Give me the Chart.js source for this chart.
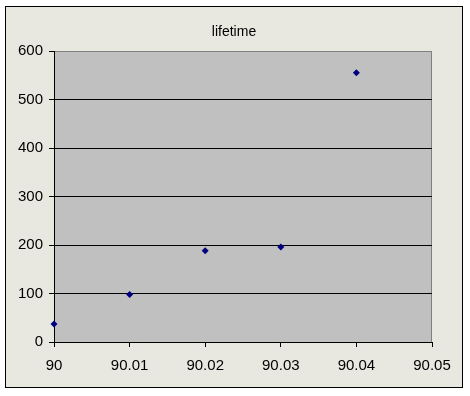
<!DOCTYPE html>
<html>
<head>
<meta charset="utf-8">
<script src="https://cdn.jsdelivr.net/npm/chart.js@4"></script>
<style>
  html,body{margin:0;padding:0;background:#fff;}
  #wrap{position:relative;width:470px;height:396px;}
</style>
</head>
<body>
<div id="wrap"><canvas id="chart" width="470" height="396"></canvas></div>
<script>
// values
const xValues = [90, 90.01, 90.02, 90.03, 90.04];
const lifetime = [37, 98, 188, 196, 555];
const chartTitle = 'lifetime';

// frame + plot background, drawn behind everything
const framePlugin = {
  id: 'frame',
  beforeDraw(chart){
    const ctx = chart.ctx, a = chart.chartArea;
    ctx.save();
    ctx.fillStyle = '#fff';
    ctx.fillRect(0, 0, chart.width, chart.height);
    ctx.fillStyle = '#E8E8E0';
    ctx.fillRect(5.5, 6.5, 457, 381);
    ctx.strokeStyle = '#000';
    ctx.lineWidth = 1;
    ctx.strokeRect(5.5, 6.5, 457, 381);
    ctx.fillStyle = '#C0C0C0';
    ctx.fillRect(a.left, a.top, a.right - a.left, a.bottom - a.top);
    ctx.strokeStyle = '#808080';
    ctx.strokeRect(a.left + 0.5, a.top + 0.5, a.right - a.left - 1, a.bottom - a.top);
    ctx.fillStyle = '#000';
    ctx.font = '14px "Liberation Sans", Arial, sans-serif';
    ctx.textAlign = 'center';
    ctx.textBaseline = 'middle';
    ctx.fillText(chartTitle, 234, 32);
    ctx.restore();
  }
};

const tickFont = { family: '"Liberation Sans", Arial, sans-serif', size: 15 };

new Chart(document.getElementById('chart').getContext('2d'), {
  type: 'scatter',
  data: {
    datasets: [{
      label: chartTitle,
      data: xValues.map((x, i) => ({ x, y: lifetime[i] })),
      pointStyle: 'rectRot',
      pointRadius: 3.5,
      pointHoverRadius: 3.5,
      backgroundColor: '#000080',
      borderColor: '#000080',
      borderWidth: 0,
      clip: false
    }]
  },
  options: {
    responsive: false,
    animation: false,
    layout: { padding: { left: 0, top: 51, right: 38, bottom: 0 } },
    plugins: { legend: { display: false }, tooltip: { enabled: false } },
    scales: {
      x: {
        type: 'linear',
        min: 90, max: 90.05,
        afterFit: s => { s.height = 54; },
        ticks: {
          stepSize: 0.01,
          color: '#000',
          font: tickFont,
          padding: 10,
          maxRotation: 0,
          callback: v => String(+Number(v).toFixed(2))
        },
        grid: { drawOnChartArea: false, drawTicks: true, tickLength: 5, color: '#000' },
        border: { color: '#000', width: 1 }
      },
      y: {
        min: 0, max: 600,
        afterFit: s => { s.width = 54; },
        ticks: { stepSize: 100, color: '#000', font: tickFont, padding: 6 },
        grid: {
          color: c => (c.tick && c.tick.value === 600) ? '#808080' : '#000',
          tickColor: '#000',
          tickLength: 5,
          lineWidth: 1
        },
        border: { color: '#000', width: 1 }
      }
    }
  },
  plugins: [framePlugin]
});
</script>
</body>
</html>
